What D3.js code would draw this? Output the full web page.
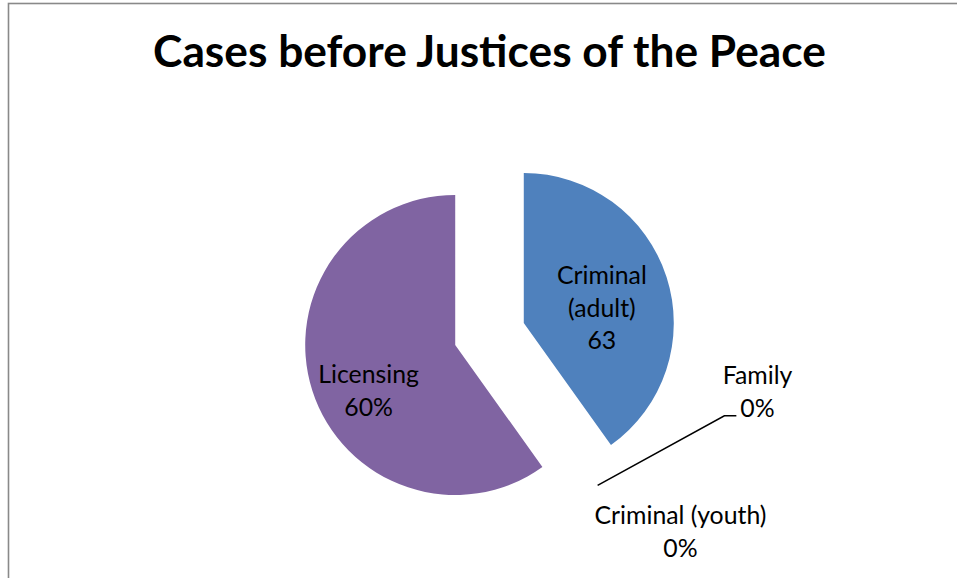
<!DOCTYPE html>
<html>
<head>
<meta charset="utf-8">
<script src="https://cdn.jsdelivr.net/npm/d3@7"></script>
<style>
  html, body { margin: 0; padding: 0; background: #fff; }
  svg { display: block; }
  text { font-family: Lato, "Open Sans", "Liberation Sans", sans-serif; fill: #000; }
</style>
</head>
<body>
<svg id="chart" width="957" height="578"></svg>
<script>
// ---- data ----
const title = "Cases before Justices of the Peace";
const categories = ["Criminal (adult)", "Criminal (youth)", "Family", "Licensing"];
const values = [63, 0, 0, 94];
const labelKind = ["value", "percent", "percent", "percent"];   // what each data label shows
const categoryLines = [["Criminal", "(adult)"], ["Criminal (youth)"], ["Family"], ["Licensing"]];
const colors = ["#4F81BD", "#C0504D", "#9BBB59", "#8064A2"];

// ---- layout ----
const W = 957, H = 578;
const cx = 489.5, cy = 334, R = 150, explode = 36;
const lineH = 32.5;

const svg = d3.select("#chart");

// chart frame
svg.append("rect")
  .attr("x", 8.5).attr("y", 3.5)
  .attr("width", 1200).attr("height", 1200)
  .attr("fill", "none").attr("stroke", "#898989").attr("stroke-width", 1.6);

function fit(sel, target) {
  const len = sel.node().getComputedTextLength();
  const fs = parseFloat(sel.attr("font-size"));
  sel.attr("font-size", fs * target / len);
}

// title
const t = svg.append("text")
  .attr("x", cx).attr("y", 67)
  .attr("text-anchor", "middle")
  .attr("font-weight", "bold")
  .attr("font-size", 40)
  .text(title);
fit(t, 673);

const total = d3.sum(values);
const data = categories.map((c, i) => ({
  name: c, value: values[i], color: colors[i], kind: labelKind[i], lines: categoryLines[i]
}));

const pie = d3.pie().sort(null).value(d => d.value).startAngle(0).endAngle(2 * Math.PI);
const arcs = pie(data);
const arc = d3.arc().innerRadius(0).outerRadius(R);

function offset(a, r) {
  const m = (a.startAngle + a.endAngle) / 2;
  return [Math.sin(m) * r, -Math.cos(m) * r];
}

const g = svg.append("g").attr("transform", `translate(${cx},${cy})`);

g.selectAll("path.slice")
  .data(arcs.filter(a => a.value > 0))
  .join("path")
  .attr("class", "slice")
  .attr("d", arc)
  .attr("fill", d => d.data.color)
  .attr("transform", d => { const [dx, dy] = offset(d, explode); return `translate(${dx},${dy})`; });

const pct = v => Math.round(v / total * 100) + "%";
const fmt = d => d.data.kind === "value" ? String(d.data.value) : pct(d.data.value);

// label font size fitted to the Calibri-like label width
const probe = svg.append("text").attr("font-size", 21).text("Criminal (youth)");
fit(probe, 172);
const labelFS = parseFloat(probe.attr("font-size"));
probe.remove();

// inside labels (non-zero slices): radius along mid-angle, plus small nudges
const insideNudge = { "Criminal (adult)": [0, 10], "Licensing": [0, 18] };
const insideR = { "Criminal (adult)": 82, "Licensing": 91 };

arcs.filter(a => a.value > 0).forEach(a => {
  const [ex, ey] = offset(a, explode);
  const [lx, ly] = offset(a, insideR[a.data.name]);
  const nd = insideNudge[a.data.name] || [0, 0];
  const lines = a.data.lines.concat([fmt(a)]);
  const x = ex + lx + nd[0], yc = ey + ly + nd[1];
  const y0 = yc - (lines.length - 1) * lineH / 2 + labelFS * 0.35;
  const txt = g.append("text").attr("text-anchor", "middle").attr("font-size", labelFS);
  lines.forEach((l, i) => txt.append("tspan").attr("x", x).attr("y", y0 + i * lineH).text(l));
});

// outside labels for zero-value slices
const outsidePos = { "Family": [268, 58], "Criminal (youth)": [191, 198] }; // label block centre, relative to pie centre
arcs.filter(a => a.value === 0).forEach(a => {
  const lines = a.data.lines.concat([fmt(a)]);
  const [px, py] = outsidePos[a.data.name];
  const y0 = py - (lines.length - 1) * lineH / 2 + labelFS * 0.35;
  const txt = g.append("text").attr("text-anchor", "middle").attr("font-size", labelFS);
  lines.forEach((l, i) => txt.append("tspan").attr("x", px).attr("y", y0 + i * lineH).text(l));

  if (a.data.name === "Family") {
    // leader line from slice edge to the left of the value text
    const [ex, ey] = offset(a, explode);
    const [sx, sy] = offset(a, R);
    const last = txt.select("tspan:last-child").node().getComputedTextLength();
    const endX = px - last / 2 - 4;
    const yLine = y0 + (lines.length - 1) * lineH - labelFS * 0.05;
    g.append("path")
      .attr("d", d3.line()([[ex + sx, ey + sy], [endX - 12, yLine], [endX, yLine]]))
      .attr("fill", "none").attr("stroke", "#000").attr("stroke-width", 1.6);
  }
});
</script>
</body>
</html>
